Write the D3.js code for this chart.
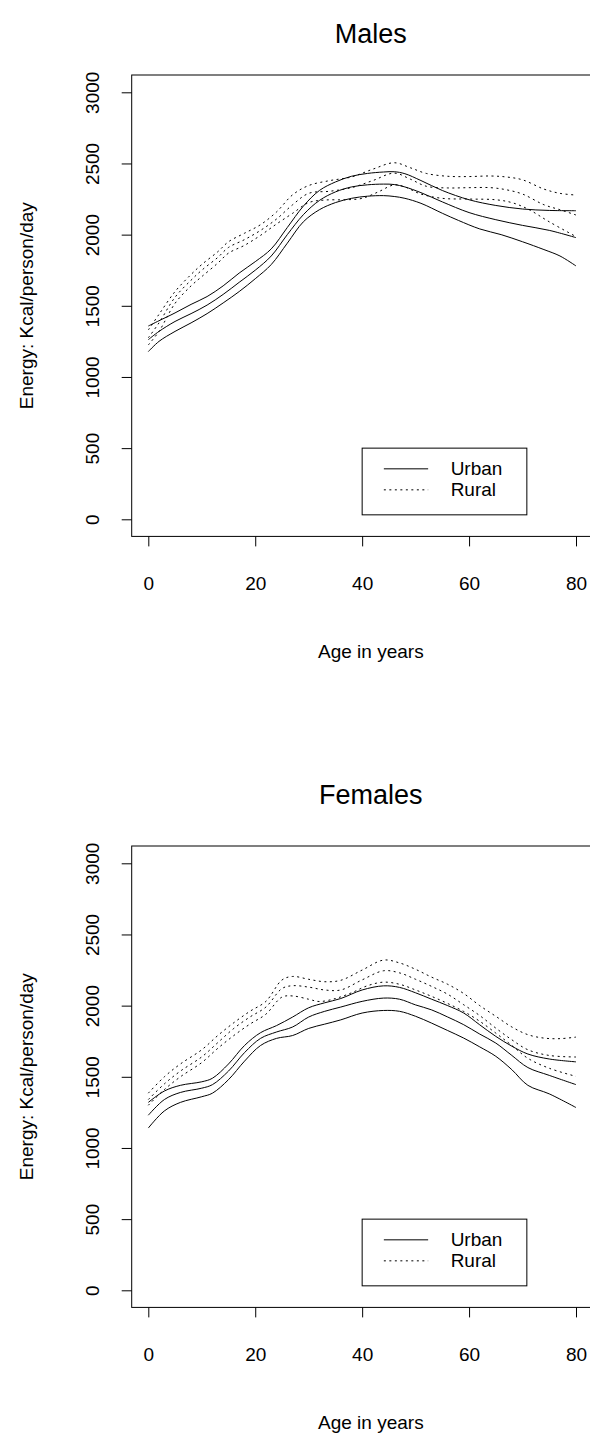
<!DOCTYPE html>
<html>
<head>
<meta charset="utf-8">
<script src="https://cdn.jsdelivr.net/npm/d3@7"></script>
<style>
  body { margin: 0; background: #fff; }
  svg { display: block; font-family: "Liberation Sans", Arial, sans-serif; }
</style>
</head>
<body>
<script>
// Energy intake by age, fitted curve with lower/upper bands, [age, kcal]
const maleUrbanUpper = [[0,1358],[2,1395],[5,1450],[8,1510],[11,1565],[14,1640],[17,1730],[20,1810],[23,1900],[26,2050],[29,2200],[32,2310],[35,2370],[38,2410],[41,2430],[44,2440],[46,2442],[48,2428],[51,2380],[55,2310],[60,2245],[65,2205],[70,2180],[75,2170],[80,2168]]
const maleUrbanMid   = [[0,1262],[2,1320],[5,1390],[8,1445],[11,1505],[14,1580],[17,1665],[20,1750],[23,1850],[26,2000],[29,2140],[32,2240],[35,2300],[38,2335],[41,2350],[44,2355],[46,2352],[48,2335],[51,2295],[55,2230],[60,2155],[65,2105],[70,2065],[75,2030],[80,1979]]
const maleUrbanLower = [[0,1178],[2,1250],[5,1320],[8,1380],[11,1445],[14,1520],[17,1600],[20,1690],[23,1790],[26,1940],[29,2090],[32,2175],[35,2225],[38,2255],[41,2270],[44,2274],[46,2268],[48,2255],[51,2220],[55,2150],[58,2100],[62,2040],[66,2000],[70,1950],[74,1895],[77,1850],[80,1780]]
const maleRuralUpper = [[0,1330],[2,1440],[5,1600],[8,1720],[10,1790],[13,1880],[15,1950],[18,2010],[21,2070],[24,2160],[27,2280],[30,2345],[34,2380],[38,2405],[42,2460],[46,2505],[49,2470],[52,2430],[56,2410],[60,2408],[64,2412],[67,2405],[70,2385],[74,2320],[77,2290],[80,2278]]
const maleRuralMid   = [[0,1275],[2,1380],[5,1560],[8,1680],[10,1750],[13,1840],[15,1910],[18,1965],[21,2030],[24,2110],[27,2210],[30,2290],[34,2305],[38,2330],[42,2380],[46,2432],[49,2390],[52,2340],[56,2328],[60,2330],[64,2330],[67,2315],[70,2285],[74,2210],[77,2175],[80,2138]]
const maleRuralLower = [[0,1225],[2,1320],[5,1517],[8,1640],[10,1705],[13,1800],[15,1870],[18,1925],[21,1995],[24,2075],[27,2150],[30,2225],[33,2243],[37,2245],[40,2255],[43,2300],[46,2350],[48,2335],[51,2285],[55,2255],[60,2250],[65,2245],[68,2225],[71,2180],[75,2090],[80,1986]]

const femaleUrbanUpper = [[0,1320],[3,1400],[6,1440],[10,1465],[12,1490],[15,1590],[18,1720],[21,1810],[24,1860],[27,1920],[30,1985],[33,2020],[36,2050],[40,2110],[44,2139],[47,2128],[50,2090],[53,2045],[56,2000],[59,1948],[62,1865],[65,1784],[68,1715],[71,1660],[75,1625],[80,1605]]
const femaleUrbanMid   = [[0,1230],[3,1340],[6,1390],[10,1420],[12,1445],[15,1540],[18,1670],[21,1770],[24,1815],[27,1850],[30,1920],[33,1960],[36,1990],[40,2030],[44,2053],[47,2045],[50,2005],[53,1970],[56,1920],[59,1866],[62,1800],[65,1737],[68,1650],[71,1565],[75,1510],[80,1445]]
const femaleUrbanLower = [[0,1140],[3,1260],[6,1320],[10,1360],[12,1385],[15,1480],[18,1610],[21,1720],[24,1770],[27,1790],[30,1840],[33,1870],[36,1900],[40,1948],[44,1966],[47,1960],[50,1925],[53,1877],[56,1825],[59,1772],[62,1710],[65,1644],[68,1550],[71,1440],[75,1380],[80,1284]]
const femaleRuralUpper = [[0,1385],[3,1500],[6,1590],[10,1690],[13,1790],[16,1880],[19,1960],[22,2030],[25,2180],[27,2205],[30,2185],[33,2168],[36,2178],[40,2250],[44,2320],[47,2300],[50,2255],[53,2200],[56,2150],[59,2085],[62,2000],[65,1925],[68,1850],[71,1796],[74,1772],[77,1768],[80,1779]]
const femaleRuralMid   = [[0,1340],[3,1450],[6,1540],[10,1640],[13,1740],[16,1840],[19,1920],[22,1990],[25,2120],[27,2140],[30,2130],[33,2110],[36,2110],[40,2181],[44,2245],[47,2230],[50,2185],[53,2135],[56,2080],[59,2006],[62,1930],[65,1842],[68,1760],[71,1690],[75,1650],[80,1639]]
const femaleRuralLower = [[0,1300],[3,1410],[6,1500],[10,1600],[13,1700],[16,1790],[19,1870],[22,1940],[25,2060],[27,2068],[30,2045],[32,2029],[35,2050],[38,2090],[41,2140],[44,2165],[47,2150],[50,2110],[53,2065],[56,2015],[59,1959],[62,1890],[65,1807],[68,1720],[71,1630],[75,1560],[80,1503]]

const panelTitles = ['Males', 'Females']
const xTicks = [0, 20, 40, 60, 80]
const yTicks = [0, 500, 1000, 1500, 2000, 2500, 3000]
const legendLabels = ['Urban', 'Rural']

const panels = [
  { title: panelTitles[0], titleY: 43, urban: [maleUrbanUpper, maleUrbanMid, maleUrbanLower], rural: [maleRuralUpper, maleRuralMid, maleRuralLower] },
  { title: panelTitles[1], titleY: 33, urban: [femaleUrbanUpper, femaleUrbanMid, femaleUrbanLower], rural: [femaleRuralUpper, femaleRuralMid, femaleRuralLower] }
]

const width = 590
const height = 1435
const panelStep = 771
const box = { left: 131.7, right: 610, top: 75, bottom: 536.4 }
const fontSize = 19
const dotted = '2,3.5'

const svg = d3.select('body')
  .append('svg')
  .attr('width', width)
  .attr('height', height)

const x = d3.scaleLinear().domain([0, 80]).range([148.3, 576])
const y = d3.scaleLinear().domain([0, 3000]).range([519.3, 92.3])

const line = d3.line()
  .x(d => x(d[0]))
  .y(d => y(d[1]))
  .curve(d3.curveCatmullRom.alpha(0.5))

panels.forEach((p, i) => {
  const g = svg.append('g')
    .attr('transform', `translate(0, ${i * panelStep})`)

  // title
  g.append('text')
    .attr('x', (box.left + box.right) / 2)
    .attr('y', p.titleY)
    .attr('text-anchor', 'middle')
    .style('font-size', '27px')
    .text(p.title)

  // curves
  p.urban.forEach(s => {
    g.append('path')
      .attr('d', line(s))
      .attr('fill', 'none')
      .attr('stroke', '#000')
      .attr('stroke-width', 1)
  })
  p.rural.forEach(s => {
    g.append('path')
      .attr('d', line(s))
      .attr('fill', 'none')
      .attr('stroke', '#000')
      .attr('stroke-width', 1)
      .attr('stroke-dasharray', dotted)
  })

  // box
  g.append('rect')
    .attr('x', box.left)
    .attr('y', box.top)
    .attr('width', box.right - box.left)
    .attr('height', box.bottom - box.top)
    .attr('fill', 'none')
    .attr('stroke', '#000')
    .attr('stroke-width', 1)

  // x axis
  const xa = g.append('g')
    .attr('transform', `translate(0, ${box.bottom})`)
    .call(d3.axisBottom(x).tickValues(xTicks).tickSize(10).tickPadding(30).tickFormat(d3.format('d')))
  xa.select('.domain').remove()
  xa.selectAll('text').style('font-size', fontSize + 'px').attr('fill', '#000')

  // y axis, labels parallel to the axis
  const ya = g.append('g')
    .attr('transform', `translate(${box.left}, 0)`)
    .call(d3.axisLeft(y).tickValues(yTicks).tickSize(10).tickFormat(d3.format('d')))
  ya.select('.domain').remove()
  ya.selectAll('text')
    .attr('x', null)
    .attr('dy', null)
    .attr('text-anchor', 'middle')
    .attr('transform', 'translate(-33, 0) rotate(-90)')
    .style('font-size', fontSize + 'px')
    .attr('fill', '#000')

  // axis titles
  g.append('text')
    .attr('x', (box.left + box.right) / 2)
    .attr('y', 658)
    .attr('text-anchor', 'middle')
    .style('font-size', fontSize + 'px')
    .text('Age in years')

  g.append('text')
    .attr('transform', `translate(33, ${(box.top + box.bottom) / 2}) rotate(-90)`)
    .attr('text-anchor', 'middle')
    .style('font-size', fontSize + 'px')
    .text('Energy: Kcal/person/day')

  // legend
  const lx = x(40), ly = y(500)
  const leg = g.append('g').attr('transform', `translate(${lx}, ${ly})`)
  leg.append('rect')
    .attr('width', 164.7)
    .attr('height', 66.7)
    .attr('fill', '#fff')
    .attr('stroke', '#000')
  legendLabels.forEach((lab, k) => {
    const ry = 20.7 + k * 21
    leg.append('line')
      .attr('x1', 21.7).attr('x2', 66)
      .attr('y1', ry).attr('y2', ry)
      .attr('stroke', '#000')
      .attr('stroke-dasharray', k ? dotted : null)
    leg.append('text')
      .attr('x', 88.5)
      .attr('y', ry)
      .attr('dy', '0.35em')
      .style('font-size', fontSize + 'px')
      .text(lab)
  })
})
</script>
</body>
</html>
